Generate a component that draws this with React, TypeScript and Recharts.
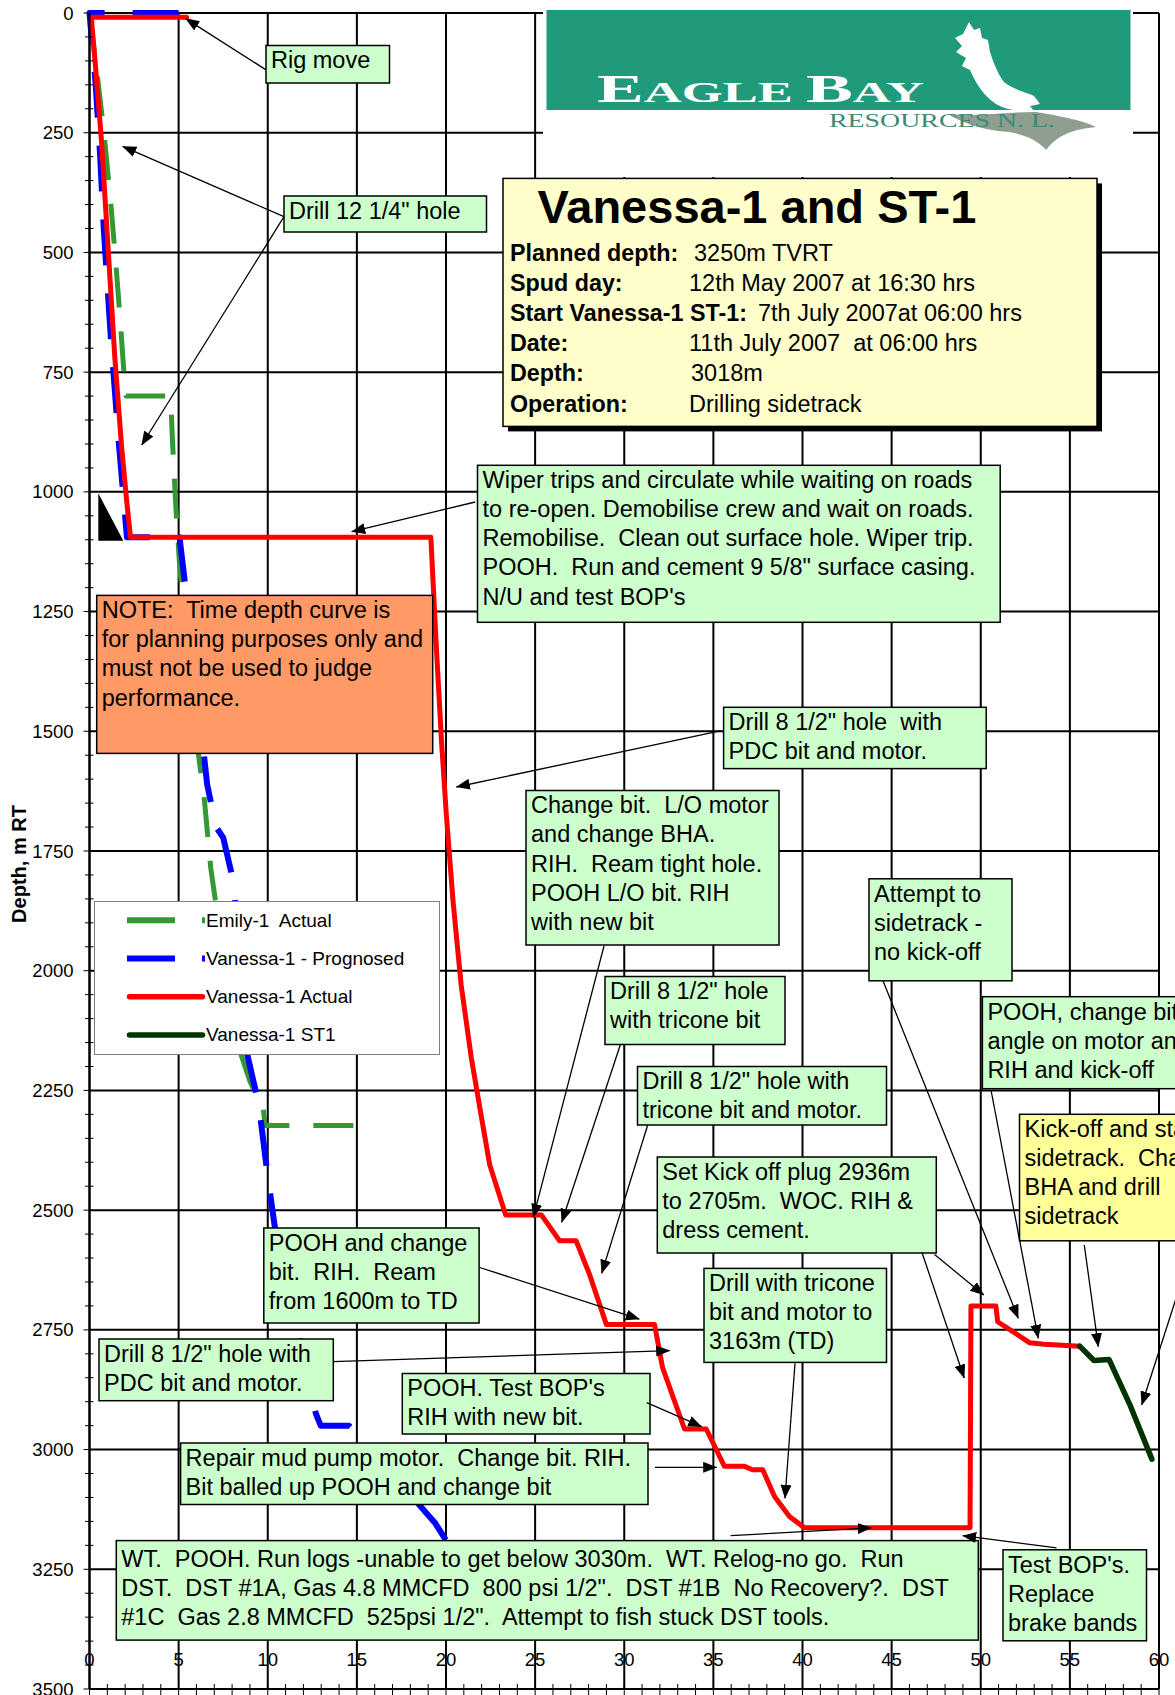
import React from "react";
import { LineChart, Line, XAxis, YAxis, CartesianGrid, Legend } from "recharts";

// days since rig move (x) against depth in m RT (y)
const emilyActual = [
  { day: 0, depth: 0 }, { day: 0.4, depth: 118 }, { day: 0.81, depth: 250 }, { day: 1.15, depth: 380 },
  { day: 1.43, depth: 500 }, { day: 1.7, depth: 630 }, { day: 1.93, depth: 750 }, { day: 2.05, depth: 800 },
  { day: 4.55, depth: 800 }, { day: 4.65, depth: 890 }, { day: 4.85, depth: 1036 }, { day: 5.05, depth: 1150 },
  { day: 5.2, depth: 1211 }, { day: 6.1, depth: 1545 }, { day: 6.45, depth: 1645 }, { day: 6.8, depth: 1785 },
  { day: 7.1, depth: 1863 }, { day: 8.5, depth: 2175 }, { day: 9.0, depth: 2231 }, { day: 9.75, depth: 2288 },
  { day: 9.85, depth: 2323 }, { day: 15.6, depth: 2323 },
];

const vanessaPrognosed = [
  { day: 5.0, depth: 0 }, { day: 0, depth: 0 }, { day: 0.35, depth: 150 }, { day: 0.6, depth: 300 },
  { day: 0.8, depth: 450 }, { day: 1.2, depth: 680 }, { day: 1.65, depth: 900 }, { day: 2.1, depth: 1095 },
  { day: 5.05, depth: 1095 }, { day: 5.45, depth: 1220 }, { day: 6.45, depth: 1560 }, { day: 6.6, depth: 1611 },
  { day: 7.1, depth: 1700 }, { day: 7.5, depth: 1722 }, { day: 8.07, depth: 1813 }, { day: 8.85, depth: 2175 },
  { day: 9.5, depth: 2280 }, { day: 10.0, depth: 2430 }, { day: 10.4, depth: 2536 }, { day: 12.7, depth: 2925 },
  { day: 12.97, depth: 2950 }, { day: 14.55, depth: 2950 }, { day: 15.1, depth: 2972 }, { day: 15.55, depth: 2990 },
  { day: 19.4, depth: 3154 }, { day: 20.05, depth: 3192 }, { day: 21.0, depth: 3250 },
];

const vanessaActual = [
  { day: 5.45, depth: 9 }, { day: 0.1, depth: 9 }, { day: 0.36, depth: 122 }, { day: 0.68, depth: 271 },
  { day: 1.05, depth: 495 }, { day: 1.42, depth: 719 }, { day: 1.8, depth: 905 }, { day: 2.08, depth: 1017 },
  { day: 2.3, depth: 1095 }, { day: 19.15, depth: 1095 }, { day: 19.45, depth: 1319 }, { day: 19.75, depth: 1522 },
  { day: 20.02, depth: 1675 }, { day: 20.4, depth: 1857 }, { day: 20.85, depth: 2030 }, { day: 21.42, depth: 2182 },
  { day: 21.98, depth: 2304 }, { day: 22.45, depth: 2405 }, { day: 23.35, depth: 2510 }, { day: 25.35, depth: 2510 },
  { day: 26.37, depth: 2564 }, { day: 27.3, depth: 2564 }, { day: 28.05, depth: 2634 }, { day: 29.0, depth: 2739 },
  { day: 31.7, depth: 2739 }, { day: 32.15, depth: 2829 }, { day: 33.38, depth: 2957 }, { day: 34.6, depth: 2957 },
  { day: 35.62, depth: 3035 }, { day: 36.75, depth: 3035 }, { day: 37.2, depth: 3042 }, { day: 37.77, depth: 3042 },
  { day: 38.43, depth: 3098 }, { day: 39.27, depth: 3140 }, { day: 40.1, depth: 3163 }, { day: 49.4, depth: 3163 },
  { day: 49.45, depth: 2700 }, { day: 50.85, depth: 2700 }, { day: 50.95, depth: 2733 }, { day: 52.75, depth: 2777 },
  { day: 53.55, depth: 2780 }, { day: 55.55, depth: 2784 },
];

const vanessaST1 = [
  { day: 55.55, depth: 2784 }, { day: 56.35, depth: 2814 }, { day: 57.2, depth: 2812 },
  { day: 58.35, depth: 2905 }, { day: 59.6, depth: 3020 },
];

const xLabelTicks = [0, 5, 10, 15, 20, 25, 30, 35, 40, 45, 50, 55, 60];
const yLabelTicks = [0, 250, 500, 750, 1000, 1250, 1500, 1750, 2000, 2250, 2500, 2750, 3000, 3250, 3500];
const xMinorTicks = Array.from({ length: 61 }, (_, i) => i);
const yMinorTicks = Array.from({ length: 71 }, (_, i) => i * 50);

const FONT = "'Liberation Sans', Arial, Helvetica, sans-serif";
const SERIF = "'Liberation Serif', 'Times New Roman', serif";

const SERIES = [
  { name: "Emily-1  Actual", data: emilyActual, color: "#339933", width: 5, dash: "40 24" },
  { name: "Vanessa-1 - Prognosed", data: vanessaPrognosed, color: "#0000ff", width: 6, dash: "46 28" },
  { name: "Vanessa-1 Actual", data: vanessaActual, color: "#ff0000", width: 5, dash: undefined },
  { name: "Vanessa-1 ST1", data: vanessaST1, color: "#003300", width: 5.5, dash: undefined },
];

const INFO = [
  { label: "Planned depth:", value: "3250m TVRT", vx: 694 },
  { label: "Spud day:", value: "12th May 2007 at 16:30 hrs", vx: 689 },
  { label: "Start Vanessa-1 ST-1:", value: "7th July 2007at 06:00 hrs", vx: 758 },
  { label: "Date:", value: "11th July 2007  at 06:00 hrs", vx: 689 },
  { label: "Depth:", value: "3018m", vx: 691 },
  { label: "Operation:", value: "Drilling sidetrack", vx: 689 },
];

const GREEN = "#ccffcc";
const NOTES = [
  { x: 266, y: 45.5, w: 123.5, h: 37.5, fill: GREEN, lines: ["Rig move"] },
  { x: 284, y: 196, w: 202.5, h: 36, fill: GREEN, lines: ['Drill 12 1/4" hole'] },
  {
    x: 477.5, y: 465.3, w: 522.7, h: 157, fill: GREEN,
    lines: [
      "Wiper trips and circulate while waiting on roads",
      "to re-open. Demobilise crew and wait on roads.",
      "Remobilise.  Clean out surface hole. Wiper trip.",
      'POOH.  Run and cement 9 5/8" surface casing.',
      "N/U and test BOP's",
    ],
  },
  {
    x: 96.7, y: 595.4, w: 336, h: 158, fill: "#ff9966",
    lines: ["NOTE:  Time depth curve is", "for planning purposes only and", "must not be used to judge", "performance."],
  },
  { x: 723.6, y: 707.3, w: 262.6, h: 61.3, fill: GREEN, lines: ['Drill 8 1/2" hole  with', "PDC bit and motor."] },
  {
    x: 526, y: 790.5, w: 253, h: 154.5, fill: GREEN,
    lines: ["Change bit.  L/O motor", "and change BHA.", "RIH.  Ream tight hole.", "POOH L/O bit. RIH", "with new bit"],
  },
  { x: 869, y: 878.8, w: 143, h: 102, fill: GREEN, lines: ["Attempt to", "sidetrack -", "no kick-off"] },
  { x: 605, y: 976.5, w: 180, h: 68, fill: GREEN, lines: ['Drill 8 1/2" hole', "with tricone bit"] },
  { x: 637.5, y: 1066.5, w: 249, h: 58.5, fill: GREEN, lines: ['Drill 8 1/2" hole with', "tricone bit and motor."] },
  { x: 982.4, y: 996.7, w: 230, h: 92, fill: GREEN, lines: ["POOH, change bit", "angle on motor and", "RIH and kick-off"] },
  {
    x: 1019.5, y: 1114.3, w: 200, h: 126.5, fill: "#ffff99",
    lines: ["Kick-off and start", "sidetrack.  Change", "BHA and drill", "sidetrack"],
  },
  {
    x: 657.3, y: 1157, w: 279, h: 96, fill: GREEN,
    lines: ["Set Kick off plug 2936m", "to 2705m.  WOC. RIH &", "dress cement."],
  },
  { x: 263.8, y: 1228, w: 215.3, h: 95, fill: GREEN, lines: ["POOH and change", "bit.  RIH.  Ream", "from 1600m to TD"] },
  { x: 99, y: 1339, w: 234.3, h: 61.7, fill: GREEN, lines: ['Drill 8 1/2" hole with', "PDC bit and motor."] },
  { x: 704, y: 1268.4, w: 182.5, h: 94, fill: GREEN, lines: ["Drill with tricone", "bit and motor to", "3163m (TD)"] },
  { x: 402.3, y: 1373.5, w: 247.7, h: 60.5, fill: GREEN, lines: ["POOH. Test BOP's", "RIH with new bit."] },
  {
    x: 180.6, y: 1443, w: 467.4, h: 61.5, fill: GREEN,
    lines: ["Repair mud pump motor.  Change bit. RIH.", "Bit balled up POOH and change bit"],
  },
  {
    x: 116.3, y: 1540.6, w: 862, h: 99.5, fill: GREEN, top: 26.3,
    lines: [
      "WT.  POOH. Run logs -unable to get below 3030m.  WT. Relog-no go.  Run",
      'DST.  DST #1A, Gas 4.8 MMCFD  800 psi 1/2".  DST #1B  No Recovery?.  DST',
      '#1C  Gas 2.8 MMCFD  525psi 1/2".  Attempt to fish stuck DST tools.',
    ],
  },
  { x: 1003, y: 1549.8, w: 143.5, h: 91, fill: GREEN, lines: ["Test BOP's.", "Replace", "brake bands"] },
];

// tail -> head of the pointer arrows
const ARROWS = [
  [265.7, 69.6, 185.7, 18.6],
  [284, 216.7, 122.7, 146.4],
  [284, 216.7, 141.7, 445],
  [475.2, 502, 351.7, 531.7],
  [721.3, 730.6, 456.4, 787],
  [604, 946, 533.3, 1217.4],
  [620.5, 1044.3, 561.7, 1222.3],
  [647.7, 1125, 601.7, 1273.3],
  [479.8, 1267.5, 639.3, 1319.2],
  [333.3, 1361.7, 669.7, 1350.6],
  [646.7, 1402.7, 701.7, 1426.7],
  [655, 1467.3, 716.7, 1467.3],
  [795, 1363.3, 785, 1498.3],
  [730.7, 1535.7, 871.3, 1527.8],
  [1056.5, 1547.8, 962.7, 1535.7],
  [922, 1252.5, 964.2, 1378],
  [934.6, 1254.5, 983.8, 1295],
  [883, 980.8, 1018.3, 1318.3],
  [991, 1090, 1038.3, 1338.3],
  [1084.3, 1245, 1098.3, 1346.7],
  [1182, 1280, 1141.7, 1405],
];

const XTick = (props: any) => {
  const { x, y, payload } = props;
  const v = payload.value;
  return (
    <g>
      <line x1={x} x2={x} y1={y - 5} y2={y + 6} stroke="#000" strokeWidth={1} />
      {xLabelTicks.includes(v) && (
        <text x={x} y={y - 23} textAnchor="middle" fontSize={18.5} fontFamily={FONT} fill="#000">
          {v}
        </text>
      )}
    </g>
  );
};

const YTick = (props: any) => {
  const { x, y, payload } = props;
  const v = payload.value;
  const major = yLabelTicks.includes(v);
  return (
    <g>
      <line x1={major ? x - 6 : x - 4.5} x2={x + (major ? 0 : 4)} y1={y} y2={y} stroke="#000" strokeWidth={1} />
      {major && (
        <text x={x - 16} y={y + 6.5} textAnchor="end" fontSize={18.5} fontFamily={FONT} fill="#000">
          {v}
        </text>
      )}
    </g>
  );
};

const renderLegend = () => (
  <div
    style={{
      width: 346,
      height: 154,
      border: "1px solid #808080",
      background: "#fff",
      boxSizing: "border-box",
    }}
  >
    <svg width={344} height={152} style={{ display: "block" }}>
      {SERIES.map((s, i) => {
        const cy = 18.3 + i * 38.2;
        return (
          <g key={s.name}>
            <line
              x1={s.dash ? 32 : 34.5}
              x2={s.dash ? 110 : 107.5}
              y1={cy}
              y2={cy}
              stroke={s.color}
              strokeWidth={s.dash ? 6 : 5.5}
              strokeDasharray={s.dash ? "48 27" : undefined}
              strokeLinecap={s.dash ? "butt" : "round"}
            />
            <text x={111} y={cy + 6.5} fontSize={19} fontFamily={FONT} fill="#000" style={{ whiteSpace: "pre" }}>
              {s.name}
            </text>
          </g>
        );
      })}
    </svg>
  </div>
);

export default function App() {
  return (
    <div style={{ position: "absolute", left: 0, top: 0, width: 1175, height: 1695, background: "#fff", overflow: "hidden" }}>
      <LineChart width={1175} height={1695} margin={{ top: 13, right: 16, bottom: 0, left: 0 }}>
        <CartesianGrid
          verticalValues={xLabelTicks}
          horizontalValues={yLabelTicks}
          stroke="#000"
          strokeWidth={2}
          strokeOpacity={1}
        />
        <XAxis
          dataKey="day"
          type="number"
          domain={[0, 60]}
          ticks={xMinorTicks}
          interval={0}
          height={6}
          tickSize={0}
          tickMargin={0}
          tickLine={false}
          tick={<XTick />}
          axisLine={{ stroke: "#000", strokeWidth: 2 }}
        />
        <YAxis
          dataKey="depth"
          type="number"
          domain={[0, 3500]}
          reversed
          ticks={yMinorTicks}
          interval={0}
          width={89.5}
          tickSize={0}
          tickMargin={0}
          tickLine={false}
          tick={<YTick />}
          axisLine={{ stroke: "#000", strokeWidth: 2 }}
        />
        <Legend
          content={renderLegend}
          layout="vertical"
          align="center"
          verticalAlign="middle"
          wrapperStyle={{ position: "absolute", left: 94, top: 900.7, width: 346, height: 154, margin: 0, padding: 0 }}
        />
        {SERIES.map((s) => (
          <Line
            key={s.name}
            name={s.name}
            data={s.data}
            dataKey="depth"
            type="linear"
            stroke={s.color}
            strokeWidth={s.width}
            strokeDasharray={s.dash}
            strokeLinejoin="round"
            strokeLinecap={s.dash ? "butt" : "round"}
            dot={false}
            activeDot={false}
            isAnimationActive={false}
          />
        ))}
      </LineChart>

      <svg
        width={1175}
        height={1695}
        style={{ position: "absolute", left: 0, top: 0, pointerEvents: "none", overflow: "hidden" }}
        fontFamily={FONT}
      >
        <defs>
          <marker id="ah" markerUnits="userSpaceOnUse" markerWidth={14} markerHeight={11} refX={13.5} refY={5.5} orient="auto">
            <path d="M0,0 L14,5.5 L0,11 Z" fill="#000" />
          </marker>
        </defs>

        {/* company logo */}
        <rect x={543} y={0} width={590} height={177} fill="#fff" />
        <rect x={546.5} y={10} width={584} height={100} fill="#1f9a7b" />
        <path
          d="M 1036 112 C 1060 116 1082 120 1096 127 C 1075 129 1058 134 1046 150 C 1036 138 1018 132 998 131 C 978 128 960 122 948 114 C 975 117 1005 112 1036 112 Z"
          fill="#8e9f90"
        />
        <path
          d="M 969 22 L 974 30 L 980 28 L 982 38 L 988 40 L 990 52 C 994 64 998 74 1004 82 C 1014 90 1026 92 1034 96 L 1040 104 L 1030 106 L 1034 111 C 1020 112 1006 110 996 104 C 984 96 976 84 970 70 L 962 66 L 966 58 L 956 52 L 962 46 L 955 38 L 963 34 Z"
          fill="#fff"
        />
        <text x={597} y={102} fontFamily={SERIF} fontWeight="bold" fill="#fff" textLength={327} lengthAdjust="spacingAndGlyphs">
          <tspan fontSize={40}>E</tspan>
          <tspan fontSize={30}>AGLE </tspan>
          <tspan fontSize={40}>B</tspan>
          <tspan fontSize={30}>AY</tspan>
        </text>
        <text x={829} y={126.5} fontFamily={SERIF} fontSize={18} fill="#3a8a76" textLength={226} lengthAdjust="spacingAndGlyphs">
          RESOURCES N. L.
        </text>

        {/* well info panel */}
        <rect x={508} y={183.4} width={594} height={248} fill="#000" />
        <rect x={503} y={178.4} width={594} height={248} fill="#ffffcc" stroke="#000" strokeWidth={1.5} />
        <text x={537.5} y={222.7} fontSize={47} fontWeight="bold" fill="#000">
          Vanessa-1 and ST-1
        </text>
        {INFO.map((r, i) => (
          <g key={r.label}>
            <text x={510} y={260.5 + i * 30.2} fontSize={23.3} fontWeight="bold" fill="#000">
              {r.label}
            </text>
            <text x={r.vx} y={260.5 + i * 30.2} fontSize={23.5} fill="#000" style={{ whiteSpace: "pre" }}>
              {r.value}
            </text>
          </g>
        ))}

        {/* comment boxes */}
        {NOTES.map((n, i) => (
          <g key={i}>
            <rect x={n.x} y={n.y} width={n.w} height={n.h} fill={n.fill} stroke="#000" strokeWidth={1.5} />
            {n.lines.map((t, j) => (
              <text
                key={j}
                x={n.x + 5}
                y={n.y + ((n as any).top ?? 22.8) + j * 29.1}
                fontSize={23.5}
                fill="#000"
                style={{ whiteSpace: "pre" }}
              >
                {t}
              </text>
            ))}
          </g>
        ))}

        {/* casing shoe */}
        <polygon points="98.3,493.3 98.3,540.7 123.3,540.7" fill="#000" />

        {ARROWS.map((a, i) => (
          <line key={i} x1={a[0]} y1={a[1]} x2={a[2]} y2={a[3]} stroke="#000" strokeWidth={1.3} markerEnd="url(#ah)" />
        ))}

        <text
          transform="translate(26,864) rotate(-90)"
          textAnchor="middle"
          fontSize={20}
          fontWeight="bold"
          fill="#000"
        >
          Depth, m RT
        </text>
      </svg>
    </div>
  );
}
